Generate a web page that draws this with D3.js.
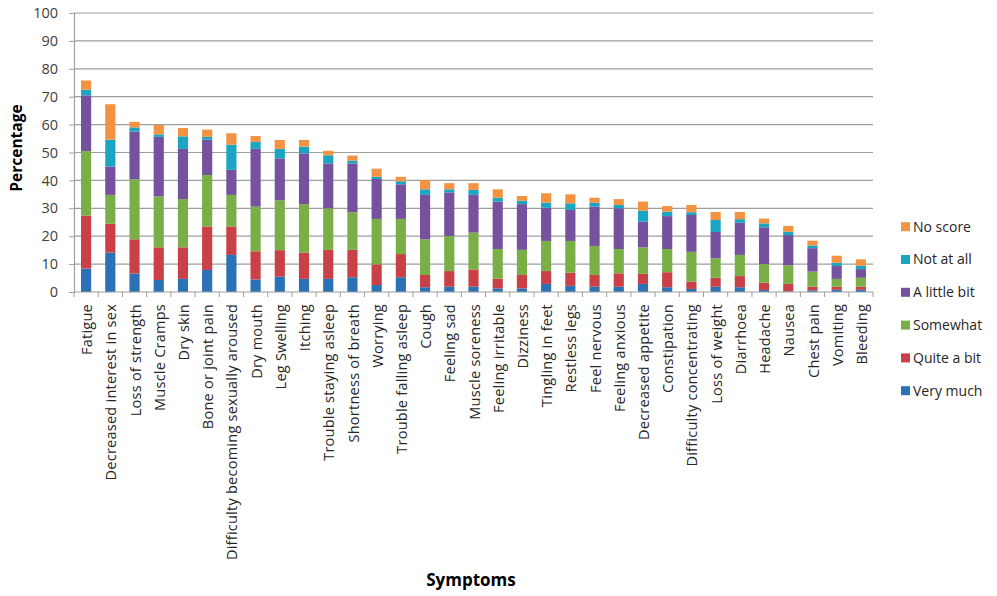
<!DOCTYPE html>
<html><head><meta charset="utf-8">
<script src="https://cdn.jsdelivr.net/npm/d3@7"></script>
<style>html,body{margin:0;padding:0;background:#fff;}</style>
</head><body>
<svg id="chart" width="997" height="596"></svg>
<script>
const categories = ["Fatigue","Decreased interest in sex","Loss of strength","Muscle Cramps","Dry skin","Bone or joint pain","Difficulty becoming sexually aroused","Dry mouth","Leg Swelling","Itching","Trouble staying asleep","Shortness of breath","Worrying","Trouble falling asleep","Cough","Feeling sad","Muscle soreness","Feeling irritable","Dizziness","Tingling in feet","Restless legs","Feel nervous","Feeling anxious","Decreased appetite","Constipation","Difficulty concentrating","Loss of weight","Diarrhoea","Headache","Nausea","Chest pain","Vomiting","Bleeding"];
const veryMuch  = [8.4,14.1,6.6,4.3,4.7,7.9,13.3,4.5,5.5,4.7,4.7,5.3,2.5,5.3,1.7,1.9,1.9,1.3,1.3,2.9,2.2,1.9,1.9,2.9,1.7,1.1,1.9,1.7,0.7,0.2,0.6,0.8,0.8];
const quiteABit = [19,10.4,12.3,11.7,11.3,15.6,10.2,10.1,9.5,9.4,10.4,9.8,7.4,8.3,4.4,5.6,6.2,3.5,4.8,4.6,4.7,4.2,4.8,3.6,5.4,2.6,3.2,4,2.6,2.7,1.3,1.1,1.1];
const somewhat  = [23.1,10.3,21.5,18.3,17.3,18.4,11.3,16,17.9,17.4,14.9,13.5,16.3,12.6,12.8,12.6,13.2,10.6,9,10.8,11.4,10.4,8.7,9.5,8.3,10.7,7,7.6,6.7,6.7,5.4,2.8,3.2];
const littleBit = [20,10.2,17.1,21.3,18,12.7,9,20.7,15,18.2,16.1,17.5,14.3,12.4,15.9,15.6,13.5,17,16.4,11.9,11.1,14.1,14.6,9.2,11.8,13.2,9.4,11.5,13.2,10.8,8.4,4.6,3.1];
const notAtAll  = [2,9.6,1.5,0.9,4.5,1,9,2.5,3.4,2.4,2.9,1,0.8,1.1,2,1.1,1.8,1.4,1.2,1.8,2.4,1.4,1.2,3.9,1.6,1,4.3,1.3,1.4,1.2,1,1.2,1.2];
const noScore   = [3.3,12.7,2,3.4,3,2.6,4.1,2.1,3.2,2.4,1.6,1.8,2.9,1.6,3.3,2.2,2.4,3,1.7,3.4,3.2,1.8,2.1,3.3,2,2.6,2.9,2.6,1.7,2.1,1.7,2.5,2.3];
const seriesNames = ["Very much","Quite a bit","Somewhat","A little bit","Not at all","No score"];
const seriesColors = ["#2a72b5","#c94047","#7aaf47","#75519e","#1aa6c2","#f39240"];
const yTicks = [0,10,20,30,40,50,60,70,80,90,100];

const seriesValues = [veryMuch, quiteABit, somewhat, littleBit, notAtAll, noScore];
const rows = categories.map((c,i)=>{const r={cat:c}; seriesNames.forEach((s,j)=>r[s]=seriesValues[j][i]); return r;});
const stacked = d3.stack().keys(seriesNames)(rows);

const svg = d3.select("#chart");
const pLeft = 74, pRight = 873, pTop = 13, pBottom = 292;
const x = d3.scaleBand().domain(categories).range([pLeft,pRight]).paddingInner(0.58).paddingOuter(0.29);
const y = d3.scaleLinear().domain([0,100]).range([pBottom,pTop]);
const font = "'Open Sans', sans-serif";

// gridlines
svg.append("g").selectAll("line").data(yTicks.filter(t=>t>0)).join("line")
  .attr("x1",pLeft).attr("x2",pRight).attr("y1",d=>y(d)).attr("y2",d=>y(d))
  .attr("stroke","#9e9e9e").attr("stroke-width",1.2);

// y axis
const yAxis = svg.append("g").attr("transform",`translate(${pLeft},0)`)
  .call(d3.axisLeft(y).tickValues(yTicks).tickSize(5).tickPadding(11));
yAxis.select(".domain").attr("stroke","#9e9e9e").attr("stroke-width",1.2);
yAxis.selectAll(".tick line").attr("stroke","#9e9e9e");
yAxis.selectAll("text").attr("font-family",font).attr("font-size",14.5).attr("fill","#404040");

// bars
svg.append("g").selectAll("g").data(stacked).join("g")
  .attr("fill",(d,i)=>seriesColors[i])
  .selectAll("rect").data(d=>d).join("rect")
  .attr("x",d=>x(d.data.cat)).attr("width",x.bandwidth())
  .attr("y",d=>y(d[1])).attr("height",d=>Math.max(0,y(d[0])-y(d[1])));

// x axis
const xg = svg.append("g").attr("transform",`translate(0,${pBottom})`);
xg.append("line").attr("x1",pLeft).attr("x2",pRight).attr("stroke","#9e9e9e").attr("stroke-width",1.2);
const step = x.step();
xg.selectAll("line.tk").data(d3.range(categories.length+1)).join("line").attr("class","tk")
  .attr("x1",i=>pLeft+i*step).attr("x2",i=>pLeft+i*step).attr("y1",0).attr("y2",5)
  .attr("stroke","#9e9e9e");
xg.selectAll("text").data(categories).join("text")
  .attr("transform",d=>`translate(${x(d)+x.bandwidth()/2+1},12) rotate(-90)`)
  .attr("text-anchor","end").attr("dy","0.35em")
  .attr("font-family",font).attr("font-size",14.5).attr("letter-spacing","0.25px").attr("fill","#262626")
  .text(d=>d);

// axis titles
svg.append("text").attr("transform","translate(22,148) rotate(-90)")
  .attr("text-anchor","middle").attr("font-family",font).attr("font-weight","bold")
  .attr("font-size",15.5).attr("fill","#000").text("Percentage");
svg.append("text").attr("x",471).attr("y",586)
  .attr("text-anchor","middle").attr("font-family",font).attr("font-weight","bold")
  .attr("font-size",17).attr("fill","#000").text("Symptoms");

// legend
const legendOrder = seriesNames.slice().reverse();
const lg = svg.append("g").selectAll("g").data(legendOrder).join("g")
  .attr("transform",(d,i)=>`translate(901,${226.7+i*32.8})`);
lg.append("rect").attr("x",0).attr("y",-4.5).attr("width",9).attr("height",9)
  .attr("fill",d=>seriesColors[seriesNames.indexOf(d)]);
lg.append("text").attr("x",12).attr("y",0).attr("dy","0.35em")
  .attr("font-family",font).attr("font-size",14).attr("fill","#262626").text(d=>d);
</script>
</body></html>
